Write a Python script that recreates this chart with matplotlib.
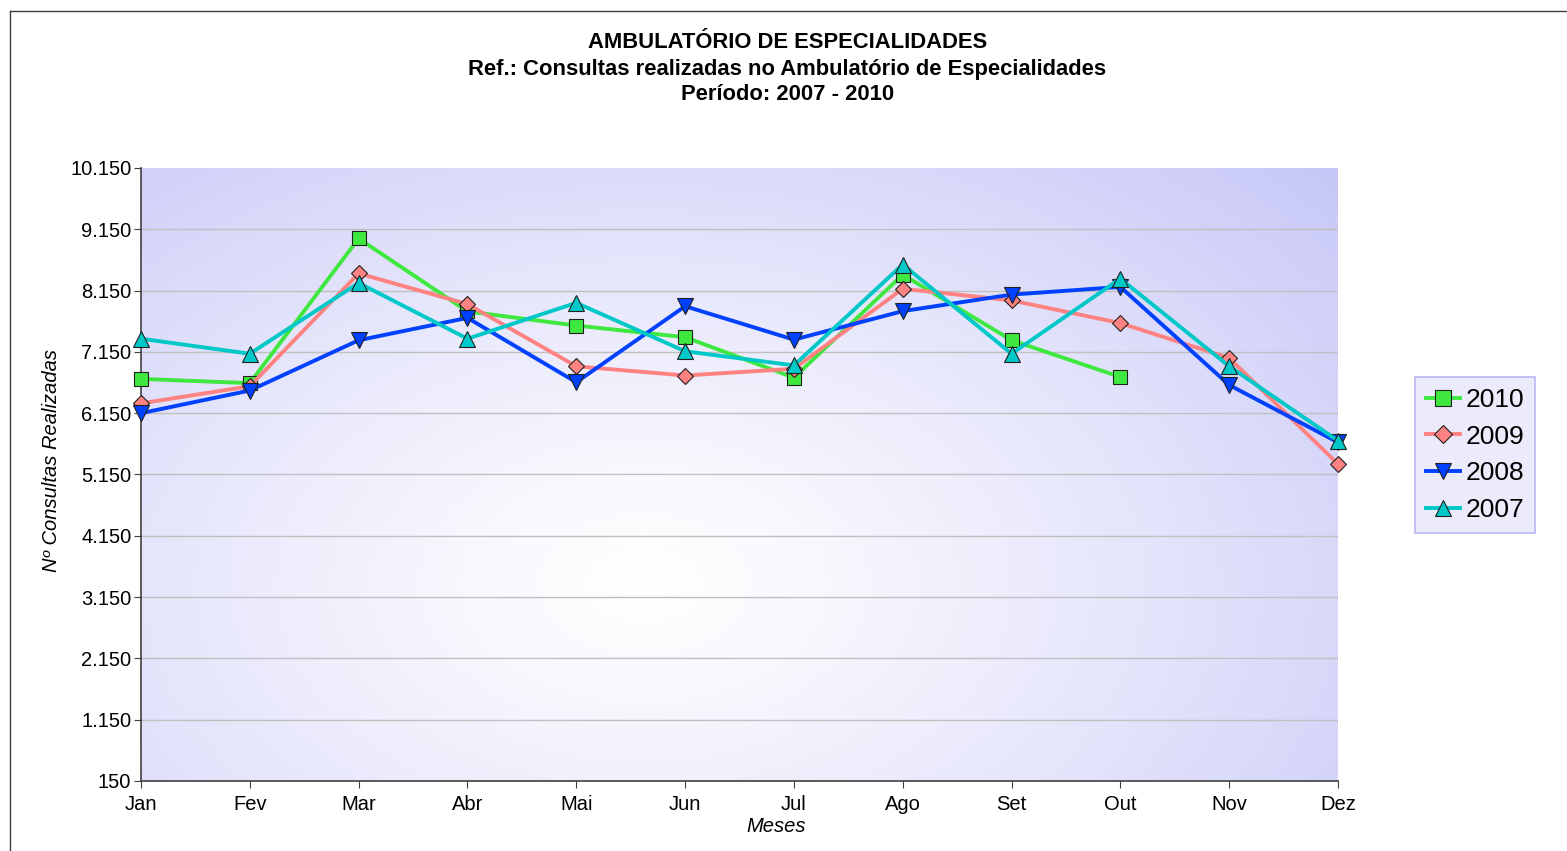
import numpy as np
import matplotlib
matplotlib.use('Agg')
import matplotlib.pyplot as plt
from matplotlib.lines import Line2D

plt.rcParams['font.family'] = ['Liberation Sans', 'DejaVu Sans']

meses = ['Jan', 'Fev', 'Mar', 'Abr', 'Mai', 'Jun', 'Jul', 'Ago', 'Set', 'Out', 'Nov', 'Dez']
anos = ['2010', '2009', '2008', '2007']

v2010 = [6710, 6640, 9000, 7810, 7580, 7390, 6730, 8410, 7340, 6740, np.nan, np.nan]
v2009 = [6310, 6590, 8430, 7930, 6915, 6765, 6875, 8180, 7990, 7620, 7050, 5320]
v2008 = [6150, 6520, 7340, 7705, 6655, 7895, 7350, 7815, 8085, 8210, 6610, 5675]
v2007 = [7365, 7120, 8275, 7365, 7950, 7160, 6930, 8575, 7120, 8345, 6915, 5700]

y_ticks = list(range(150, 10151, 1000))
y_labels = ['{:,}'.format(t).replace(',', '.') for t in y_ticks]

fig = plt.figure(figsize=(15.67, 8.51), dpi=100)
fig.patch.set_facecolor('white')

# moldura da figura (só topo e esquerda visiveis)
fig.add_artist(Line2D([10/1567, 10/1567], [0, 1 - 11/851], transform=fig.transFigure, color='#404040', lw=1))
fig.add_artist(Line2D([10/1567, 1], [1 - 11/851, 1 - 11/851], transform=fig.transFigure, color='#404040', lw=1))

ax = fig.add_axes([141/1567, 1 - 781/851, (1338 - 141)/1567, (781 - 168)/851])

# fundo com gradiente radial
nx, ny = 400, 200
gx, gy = np.meshgrid(np.linspace(0, 1, nx), np.linspace(0, 1, ny))
d = np.sqrt(((gx - 0.42) / 0.75) ** 2 + ((gy - 0.32) / 0.95) ** 2)
d = np.clip(d / d.max(), 0, 1)
c_in = np.array([1.0, 1.0, 1.0])
c_out = np.array([0.78, 0.78, 0.97])
img = c_in + (c_out - c_in) * d[..., None] ** 1.2
ax.imshow(img, extent=[0, len(meses) - 1, 150, 10150], origin='lower', aspect='auto', zorder=0)

x = np.arange(len(meses))
estilo = [
    (v2010, '2010', '#3ee83e', 's', 10),
    (v2009, '2009', '#ff8282', 'D', 8),
    (v2008, '2008', '#0040ff', 'v', 11),
    (v2007, '2007', '#00c8c8', '^', 11),
]
for vals, nome, cor, mk, ms in estilo:
    ax.plot(x, vals, color=cor, lw=2.8, marker=mk, markersize=ms,
            markerfacecolor=cor, markeredgecolor='#202020', markeredgewidth=0.8,
            label=nome, zorder=3, clip_on=False)

ax.set_xlim(0, len(meses) - 1)
ax.set_ylim(150, 10150)
ax.set_xticks(x)
ax.set_xticklabels(meses, fontsize=14.5)
ax.set_yticks(y_ticks)
ax.set_yticklabels(y_labels, fontsize=14.5)
ax.yaxis.grid(True, color='#c0c0c0', lw=1.0)
gl = ax.get_ygridlines()
for g in gl:
    g.set_zorder(1)
gl[-1].set_visible(False)
ax.tick_params(direction='out', length=5, color='#404040')
ax.tick_params(axis='x', pad=5)
ax.tick_params(axis='y', pad=2)
for s in ['top', 'right']:
    ax.spines[s].set_visible(False)
for s in ['left', 'bottom']:
    ax.spines[s].set_color('#404040')
    ax.spines[s].set_linewidth(1.2)

fig.text(776/1567, 1 - 826/851, 'Meses', ha='center', va='center', fontsize=14.5, style='italic')
fig.text(52/1567, 1 - 461/851, 'Nº Consultas Realizadas', ha='center', va='center', rotation=90,
         fontsize=14.5, style='italic')

fig.text(0.5025, 1 - 43/851, 'AMBULATÓRIO DE ESPECIALIDADES', ha='center', va='center', fontsize=15.8, fontweight='bold')
fig.text(0.5025, 1 - 69/851, 'Ref.: Consultas realizadas no Ambulatório de Especialidades', ha='center', va='center', fontsize=15.8, fontweight='bold')
fig.text(0.5025, 1 - 95/851, 'Período: 2007 - 2010', ha='center', va='center', fontsize=15.8, fontweight='bold')

leg = fig.legend(loc='center', bbox_to_anchor=(1475/1567, 1 - 455/851), fontsize=19,
                 frameon=True, fancybox=False, handlelength=1.3, handletextpad=0.2,
                 labelspacing=0.48, borderpad=0.4, markerscale=1.1, borderaxespad=0)
leg.get_frame().set_facecolor('#e6e6fb')
leg.get_frame().set_edgecolor('#a8a8f0')
leg.get_frame().set_linewidth(1.2)

fig.savefig('out.png', dpi=100)
